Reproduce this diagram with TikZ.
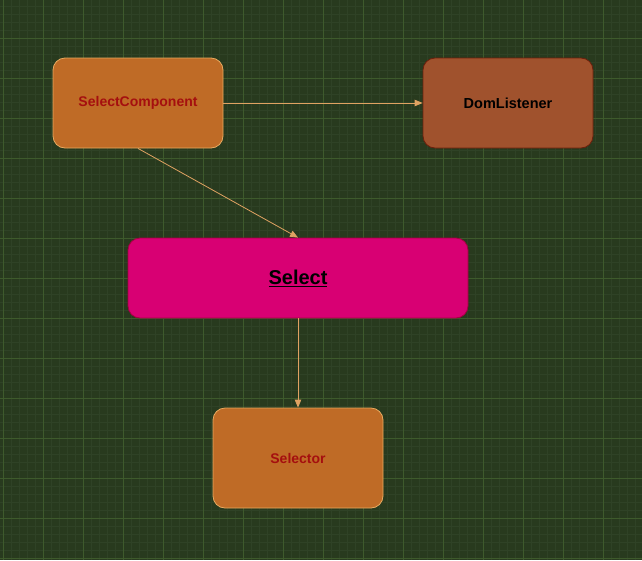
\documentclass[tikz,border=0pt]{standalone}
\usepackage{fontspec}
\setmainfont{Liberation Sans}
\usetikzlibrary{arrows.meta}
\definecolor{bgGreen}{HTML}{283A1E}
\definecolor{minorLine}{HTML}{2F4226}
\definecolor{majorLine}{HTML}{3E5A2C}
\definecolor{orangeFill}{HTML}{BF6B26}
\definecolor{orangeEdge}{HTML}{E8AA60}
\definecolor{darkRedText}{HTML}{A50F0F}
\definecolor{siennaFill}{HTML}{A0522D}
\definecolor{siennaEdge}{HTML}{6D1F0B}
\definecolor{pinkFill}{HTML}{D80073}
\definecolor{pinkEdge}{HTML}{A50040}
\definecolor{linkColor}{HTML}{E0A262}

\tikzset{
  compbox/.style={draw=orangeEdge, fill=orangeFill, rounded corners=12pt,
    line width=0.8pt, text=darkRedText, font=\bfseries\fontsize{14}{16}\selectfont,
    minimum width=170pt, inner sep=0pt},
  listenbox/.style={draw=siennaEdge, fill=siennaFill, rounded corners=12pt,
    line width=0.8pt, text=black, font=\bfseries\fontsize{14.5}{16}\selectfont,
    minimum width=170pt, minimum height=90pt, inner sep=0pt},
  mainbox/.style={draw=pinkEdge, fill=pinkFill, rounded corners=12pt,
    line width=0.8pt, text=black, font=\bfseries\fontsize{20}{24}\selectfont,
    minimum width=340pt, minimum height=80pt, inner sep=0pt},
  link/.style={draw=linkColor, line width=0.8pt, -{Triangle[length=8pt,width=6.5pt]}}
}

\begin{document}
\begin{tikzpicture}[x=1pt,y=-1pt]
\useasboundingbox (0,0) rectangle (642,560);
\fill[bgGreen] (0,0) rectangle (642,560);
% grid
\foreach \x in {3,11,...,642} \draw[minorLine, line width=0.5pt] (\x,0) -- (\x,560);
\foreach \y in {6,14,...,560} \draw[minorLine, line width=0.5pt] (0,\y) -- (642,\y);
\foreach \x in {3,43,...,642} \draw[majorLine, line width=0.8pt] (\x,0) -- (\x,560);
\foreach \y in {-2,38,...,560} \draw[majorLine, line width=0.8pt] (0,\y) -- (642,\y);

% boxes
\node[compbox, minimum height=90pt] (selComp) at (138,103) {SelectComponent};
\node[listenbox] (domListen) at (508,103) {DomListener};
\node[mainbox] (select) at (298,278) {\underline{Select}};
\node[compbox, minimum height=100pt] (selector) at (298,458) {Selector};

% links
\draw[link] (selComp) -- (domListen);
\draw[link] (selComp.south) -- (select.north);
\draw[link] (select) -- (selector);
\end{tikzpicture}
\end{document}
